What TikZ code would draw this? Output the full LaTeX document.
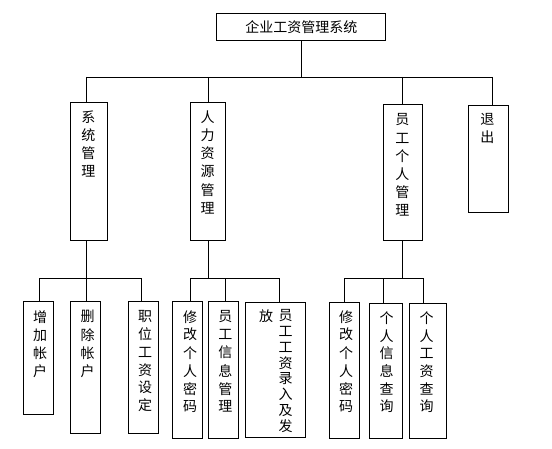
\documentclass[tikz,border=0pt]{standalone}
\usepackage{fontspec}
\setmainfont{Noto Sans CJK SC}
\tikzset{
  box/.style={draw, line width=0.9pt, inner sep=0pt, rectangle},
  ch/.style={inner sep=0pt, font=\fontsize{14}{18}\selectfont},
  link/.style={line width=0.9pt}
}
\newcommand\bx[5]{%
  \node[box, minimum width={(#4-#2)*1pt}, minimum height={(#5-#3)*1pt}] (#1) at ({(#2+#4)/2},{(#3+#5)/2}) {};}
\newcommand\vcol[5]{%
  \foreach \c [count=\i] in {#5} \node[ch] (#1-\i) at (#2,{#3+(\i-1)*#4}) {\c};}
\begin{document}
\begin{tikzpicture}[x=1pt,y=-1pt]
\useasboundingbox (0,0) rectangle (552,449);
% top
\node[box, ch, minimum width=169pt, minimum height=27.5pt] (top) at (301.3,27) {企业工资管理系统};
% level 2
\bx{sys}{70.3}{102.3}{107.3}{240.3}
\bx{hr}{190.3}{102.3}{225.3}{240.3}
\bx{emp}{383.3}{104.3}{422.7}{240.3}
\bx{quit}{468.3}{105.3}{508.3}{212.3}
% level 3
\bx{a1}{23.3}{301.3}{53.3}{414.3}
\bx{a2}{70.3}{301.3}{100.3}{433.3}
\bx{a3}{128.7}{301.3}{158.7}{433.3}
\bx{b1}{172.3}{301.3}{202.3}{438.3}
\bx{b2}{208.7}{301.3}{238.7}{438.3}
\bx{b3}{245.5}{302.3}{305.3}{437.3}
\bx{c1}{329.3}{302.3}{359.3}{438.3}
\bx{c2}{369.3}{303.3}{402.3}{438.3}
\bx{c3}{409.3}{303.3}{446.3}{438.3}
% texts
\vcol{tsys}{88.3}{117}{18}{系,统,管,理}
\vcol{thr}{207.7}{116.7}{18.3}{人,力,资,源,管,理}
\vcol{temp}{402.3}{120}{18}{员,工,个,人,管,理}
\vcol{tquit}{487.3}{119.3}{17.5}{退,出}
\vcol{ta1}{40}{316.7}{18.3}{增,加,帐,户}
\vcol{ta2}{87.7}{316.7}{18.3}{删,除,帐,户}
\vcol{ta3}{145}{316.7}{17.7}{职,位,工,资,设,定}
\vcol{tb1}{190}{316.7}{18}{修,改,个,人,密,码}
\vcol{tb2}{225.3}{316.7}{18}{员,工,信,息,管,理}
\vcol{tb3}{285.7}{315.7}{15.8}{员,工,工,资,录,入,及,发}
\node[ch] (tb3x) at (266,315.7) {放};
\vcol{tc1}{346}{316.7}{18}{修,改,个,人,密,码}
\vcol{tc2}{386.7}{318}{17.7}{个,人,信,息,查,询}
\vcol{tc3}{426.7}{318}{17.7}{个,人,工,资,查,询}
% main bus
\coordinate (busL) at (86.7,77);
\coordinate (busH) at (208.3,77);
\coordinate (busE) at (402.3,77);
\coordinate (busR) at (492.3,77);
\draw[link] (top.south) -- (top.south |- busL);
\draw[link] (busL) -- (busR);
\draw[link] (busL) -- (busL |- sys.north);
\draw[link] (busH) -- (busH |- hr.north);
\draw[link] (busE) -- (busE |- emp.north);
\draw[link] (busR) -- (busR |- quit.north);
% sys group
\coordinate (s0) at (86.7,278.3);
\coordinate (sL) at (39.7,278.3);
\coordinate (sR) at (141.3,278.3);
\draw[link] (s0 |- sys.south) -- (s0);
\draw[link] (sL) -- (sR);
\draw[link] (sL) -- (sL |- a1.north);
\draw[link] (s0) -- (s0 |- a2.north);
\draw[link] (sR) -- (sR |- a3.north);
% hr group
\coordinate (h0) at (208.3,278.3);
\coordinate (hL) at (190.7,278.3);
\coordinate (hM) at (225.3,278.3);
\coordinate (hR) at (279.3,278.3);
\draw[link] (h0 |- hr.south) -- (h0);
\draw[link] (hL) -- (hR);
\draw[link] (hL) -- (hL |- b1.north);
\draw[link] (hM) -- (hM |- b2.north);
\draw[link] (hR) -- (hR |- b3.north);
% emp group
\coordinate (e0) at (402.3,278.3);
\coordinate (eL) at (344.3,278.3);
\coordinate (eM) at (383.3,278.3);
\coordinate (eR) at (423.3,278.3);
\draw[link] (e0 |- emp.south) -- (e0);
\draw[link] (eL) -- (eR);
\draw[link] (eL) -- (eL |- c1.north);
\draw[link] (eM) -- (eM |- c2.north);
\draw[link] (eR) -- (eR |- c3.north);
\end{tikzpicture}
\end{document}
